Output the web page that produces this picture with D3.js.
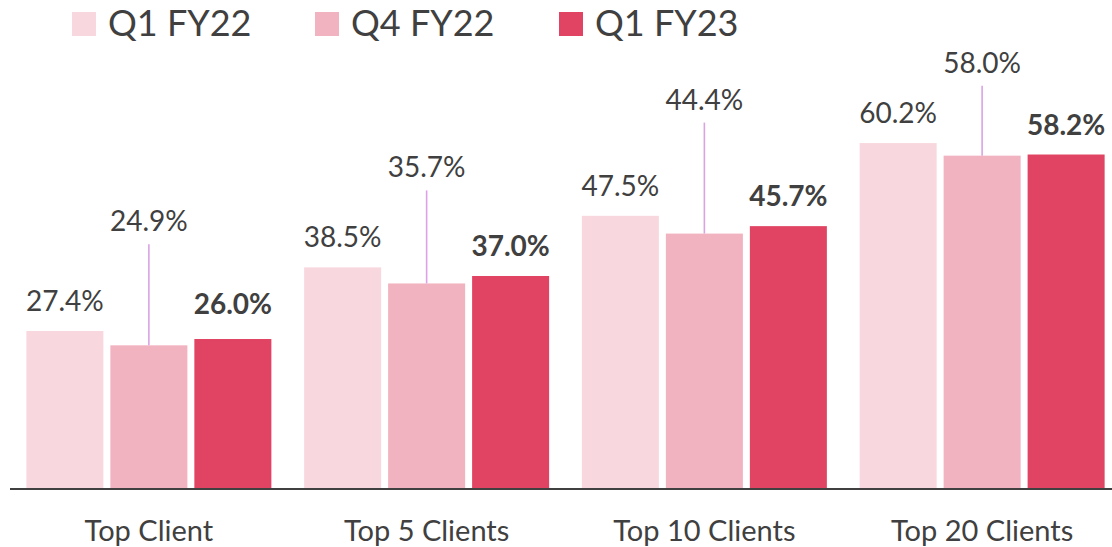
<!DOCTYPE html>
<html>
<head>
<meta charset="utf-8">
<script src="https://cdn.jsdelivr.net/npm/d3@7"></script>
<style>
  body { margin: 0; background: #fff; }
  text { font-family: Lato, "Open Sans", sans-serif; fill: #404040; }
</style>
</head>
<body>
<div id="chart"></div>
<script>
// data
var categories = ["Top Client", "Top 5 Clients", "Top 10 Clients", "Top 20 Clients"];
var seriesNames = ["Q1 FY22", "Q4 FY22", "Q1 FY23"];
var q1fy22 = [27.4, 38.5, 47.5, 60.2];
var q4fy22 = [24.9, 35.7, 44.4, 58.0];
var q1fy23 = [26.0, 37.0, 45.7, 58.2];
var colors = ["#f8d8de", "#f2b3c0", "#e04462"];

// Q4 labels sit higher with a leader line, pixels above the bar top
var leaderOffsets = [114, 106, 124, 83];
// gap above the bold Q1 FY23 labels
var boldOffsets = [25, 20, 20, 20];

var width = 1112, height = 547;
var baseline = 488;

var svg = d3.select("#chart").append("svg")
    .attr("width", width)
    .attr("height", height);

var x0 = d3.scaleBand().domain(categories).range([10, 1121]).paddingInner(0).paddingOuter(0);
var x1 = d3.scaleBand().domain(seriesNames).range([0, x0.bandwidth()])
    .paddingInner(0.083).paddingOuter(0.195);
var y = d3.scaleLinear().domain([0, 70]).range([baseline, baseline - 70 * 5.73]);

var rows = categories.map(function(c, i) {
    return {cat: c, i: i, values: [q1fy22[i], q4fy22[i], q1fy23[i]]};
});

var groups = svg.selectAll("g.group").data(rows).enter().append("g")
    .attr("class", "group")
    .attr("transform", function(d) { return "translate(" + x0(d.cat) + ",0)"; });

groups.selectAll("rect").data(function(d) {
        return d.values.map(function(v, k) { return {name: seriesNames[k], k: k, v: v, i: d.i}; });
    })
    .enter().append("rect")
    .attr("x", function(d) { return x1(d.name); })
    .attr("y", function(d) { return y(d.v); })
    .attr("width", x1.bandwidth())
    .attr("height", function(d) { return baseline - y(d.v); })
    .style("fill", function(d) { return colors[d.k]; });

// leader lines for Q4 FY22
groups.append("line")
    .attr("x1", function(d) { return x1("Q4 FY22") + x1.bandwidth() / 2; })
    .attr("x2", function(d) { return x1("Q4 FY22") + x1.bandwidth() / 2; })
    .attr("y1", function(d) { return y(d.values[1]) - leaderOffsets[d.i] + 13; })
    .attr("y2", function(d) { return y(d.values[1]); })
    .style("stroke", "#dba2e4")
    .style("stroke-width", 1.6);

groups.selectAll("text.val").data(function(d) {
        return d.values.map(function(v, k) { return {name: seriesNames[k], k: k, v: v, i: d.i}; });
    })
    .enter().append("text")
    .attr("class", "val")
    .attr("x", function(d) { return x1(d.name) + x1.bandwidth() / 2; })
    .attr("y", function(d) {
        if (d.k === 1) return y(d.v) - leaderOffsets[d.i];
        if (d.k === 2) return y(d.v) - boldOffsets[d.i];
        return y(d.v) - 20;
    })
    .attr("text-anchor", "middle")
    .style("font-size", "28px")
    .style("font-weight", function(d) { return d.k === 2 ? "bold" : "normal"; })
    .text(function(d) { return d.v.toFixed(1) + "%"; });

// axis
var xAxis = d3.axisBottom(x0).tickSize(0).tickPadding(26);
var axisG = svg.append("g")
    .attr("transform", "translate(0," + (baseline + 1) + ")")
    .call(xAxis);
axisG.select(".domain").style("stroke", "#404040").style("stroke-width", 2)
    .attr("d", "M10,0H1112");
axisG.selectAll("text")
    .style("font-size", "29px")
    .style("font-family", "Lato, sans-serif")
    .style("fill", "#404040")
    .attr("dy", "0.9em");

// legend
var legendX = [72, 315, 559];
var legend = svg.selectAll("g.legend").data(seriesNames).enter().append("g")
    .attr("class", "legend")
    .attr("transform", function(d, i) { return "translate(" + legendX[i] + ",12)"; });
legend.append("rect")
    .attr("width", 24).attr("height", 24)
    .style("fill", function(d, i) { return colors[i]; });
legend.append("text")
    .attr("x", 36).attr("y", 24)
    .style("font-size", "36px")
    .text(function(d) { return d; });
</script>
</body>
</html>
